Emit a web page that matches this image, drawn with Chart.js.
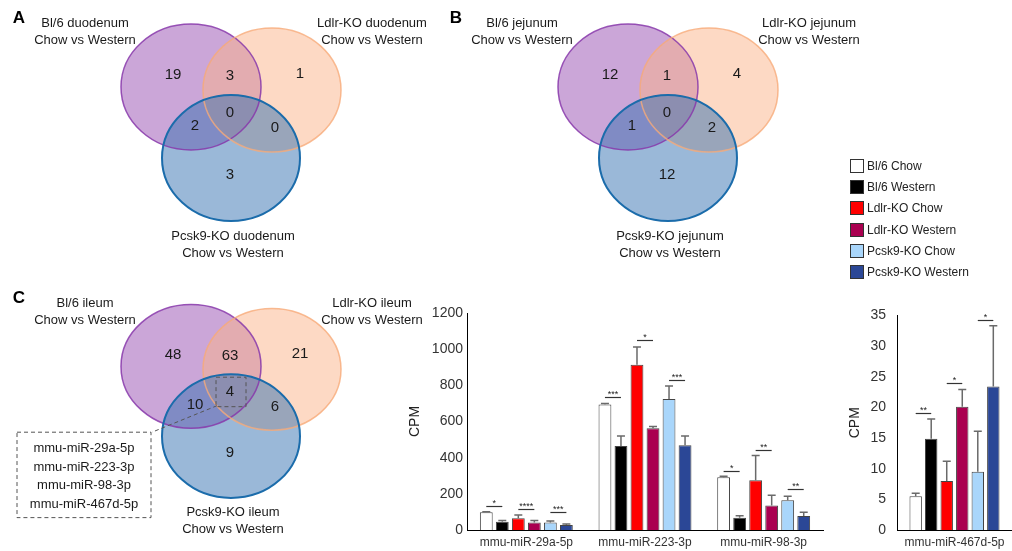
<!DOCTYPE html>
<html>
<head>
<meta charset="utf-8">
<script src="https://cdn.jsdelivr.net/npm/chart.js@4.4.0/dist/chart.umd.min.js"></script>
<style>
  body { margin: 0; background: #fff; width: 1012px; height: 551px; overflow: hidden; position: relative;
         font-family: "Liberation Sans", Arial, sans-serif; }
  .box { position: absolute; }
  #legend { position: absolute; left: 850px; top: 155px; font-size: 12px; color: #222; }
  #legend div { height: 21.3px; display: flex; align-items: center; }
  #legend .sw { width: 14px; height: 14px; border: 1px solid #333; margin-right: 3px; box-sizing: border-box; }
</style>
</head>
<body>
<div class="box" style="left:0;top:0;width:440px;height:275px"><canvas id="vennA"></canvas></div>
<div class="box" style="left:437px;top:0;width:440px;height:275px"><canvas id="vennB"></canvas></div>
<div class="box" style="left:0;top:281px;width:440px;height:270px"><canvas id="vennC"></canvas></div>
<div class="box" style="left:380px;top:296px;width:448px;height:255px"><canvas id="bars1"></canvas></div>
<div class="box" style="left:840px;top:296px;width:172px;height:255px"><canvas id="bars2"></canvas></div>
<div id="legend"></div>

<script>
// venn counts: [Bl/6 only, Bl/6+Ldlr, Ldlr only, all three, Bl/6+Pcsk9, Ldlr+Pcsk9, Pcsk9 only]
const vennA = [19, 3, 1, 0, 2, 0, 3];
const vennB = [12, 1, 4, 0, 1, 2, 12];
const vennC = [48, 63, 21, 4, 10, 6, 9];
const vennNamesA = [['Bl/6 duodenum', 'Chow vs Western'], ['Ldlr-KO duodenum', 'Chow vs Western'], ['Pcsk9-KO duodenum', 'Chow vs Western']];
const vennNamesB = [['Bl/6 jejunum', 'Chow vs Western'], ['Ldlr-KO jejunum', 'Chow vs Western'], ['Pcsk9-KO jejunum', 'Chow vs Western']];
const vennNamesC = [['Bl/6 ileum', 'Chow vs Western'], ['Ldlr-KO ileum', 'Chow vs Western'], ['Pcsk9-KO ileum', 'Chow vs Western']];
const sharedMirs = ['mmu-miR-29a-5p', 'mmu-miR-223-3p', 'mmu-miR-98-3p', 'mmu-miR-467d-5p'];

// bar data
const seriesNames = ['Bl/6 Chow', 'Bl/6 Western', 'Ldlr-KO Chow', 'Ldlr-KO Western', 'Pcsk9-KO Chow', 'Pcsk9-KO Western'];
const seriesColors = ['#ffffff', '#000000', '#ff0000', '#aa0050', '#a9d6fb', '#2b4796'];
const mirs1 = ['mmu-miR-29a-5p', 'mmu-miR-223-3p', 'mmu-miR-98-3p'];
const bl6Chow      = [98, 694, 292];
const bl6Western   = [46, 465, 68];
const ldlrChow     = [65, 914, 275];
const ldlrWestern  = [41, 563, 135];
const pcsk9Chow    = [42, 725, 164];
const pcsk9Western = [28, 469, 78];
const bl6ChowErr      = [3, 6, 5];
const bl6WesternErr   = [6, 55, 11];
const ldlrChowErr     = [18, 98, 137];
const ldlrWesternErr  = [11, 9, 57];
const pcsk9ChowErr    = [8, 72, 22];
const pcsk9WesternErr = [5, 51, 20];
const sigLevels1 = [[135, 116, 100], [735, 1052, 831], [329, 443, 225]];
const sigStars1  = [['*', '****', '***'], ['***', '*', '***'], ['*', '**', '**']];

const mirs2 = ['mmu-miR-467d-5p'];
const mir467    = [5.5, 14.9, 8.0, 20.1, 9.5, 23.4];
const mir467Err = [0.5, 3.2, 3.2, 2.8, 6.6, 9.9];
const sigLevels2 = [[19.1, 24.0, 34.2]];
const sigStars2  = [['**', '*', '*']];

Chart.defaults.font.family = '"Liberation Sans", Arial, sans-serif';

// venn drawing, layout in a 440x275 box
function makeVenn(counts, names, letter, withList) {
  return {
    id: 'venn',
    afterDraw(chart) {
      const ctx = chart.ctx, sx = chart.scales.x, sy = chart.scales.y;
      const px = v => sx.getPixelForValue(v), py = v => sy.getPixelForValue(v);
      const circles = [
        { cx: 191, cy: 87, rx: 70, ry: 63, fill: 'rgba(151,77,177,0.5)', stroke: 'rgba(135,55,170,0.85)', w: 1.5 },
        { cx: 272, cy: 90, rx: 69, ry: 62, fill: 'rgba(251,179,137,0.5)', stroke: 'rgba(247,170,120,0.8)', w: 1.5 },
        { cx: 231, cy: 158, rx: 69, ry: 63, fill: 'rgba(53,113,177,0.5)', stroke: '#1b6cab', w: 2 }
      ];
      ctx.save();
      circles.forEach(c => {
        ctx.beginPath();
        ctx.ellipse(px(c.cx), py(c.cy), px(c.cx + c.rx) - px(c.cx), py(c.cy + c.ry) - py(c.cy), 0, 0, Math.PI * 2);
        ctx.fillStyle = c.fill; ctx.fill();
      });
      circles.forEach(c => {
        ctx.beginPath();
        ctx.ellipse(px(c.cx), py(c.cy), px(c.cx + c.rx) - px(c.cx), py(c.cy + c.ry) - py(c.cy), 0, 0, Math.PI * 2);
        ctx.strokeStyle = c.stroke; ctx.lineWidth = c.w; ctx.stroke();
      });
      const spots = [[173, 75], [230, 76], [300, 74], [230, 113], [195, 126], [275, 128], [230, 175]];
      ctx.fillStyle = '#1a1a1a';
      ctx.font = '15px "Liberation Sans", Arial, sans-serif';
      ctx.textAlign = 'center'; ctx.textBaseline = 'middle';
      counts.forEach((n, i) => ctx.fillText(String(n), px(spots[i][0]), py(spots[i][1])));
      ctx.font = '13px "Liberation Sans", Arial, sans-serif';
      const labelPos = [[85, 23], [372, 23], [233, 236]];
      names.forEach((lines, i) => lines.forEach((t, k) =>
        ctx.fillText(t, px(labelPos[i][0]), py(labelPos[i][1] + k * 17))));
      if (withList) {
        ctx.strokeStyle = '#555'; ctx.lineWidth = 1; ctx.setLineDash([4, 3]);
        ctx.strokeRect(px(216), py(98), px(246) - px(216), py(128) - py(98));
        ctx.beginPath(); ctx.moveTo(px(217), py(127)); ctx.lineTo(px(152), py(154)); ctx.stroke();
        ctx.strokeRect(px(17), py(154), px(151) - px(17), py(241) - py(154));
        ctx.setLineDash([]);
        withList.forEach((t, k) => ctx.fillText(t, px(84), py(171 + k * 18.7)));
      }
      ctx.font = 'bold 17px "Liberation Sans", Arial, sans-serif';
      ctx.fillStyle = '#000';
      ctx.fillText(letter, px(19), py(18));
      ctx.restore();
    }
  };
}

function venn(id, counts, names, letter, withList) {
  return new Chart(document.getElementById(id), {
    type: 'scatter',
    data: { datasets: [] },
    options: {
      responsive: true, maintainAspectRatio: false, animation: false, events: [],
      layout: { padding: 0 },
      plugins: { legend: { display: false }, tooltip: { enabled: false } },
      scales: {
        x: { type: 'linear', display: false, min: 0, max: 440 },
        y: { type: 'linear', display: false, min: 0, max: 275, reverse: true }
      }
    },
    plugins: [makeVenn(counts, names, letter, withList)]
  });
}
venn('vennA', vennA, vennNamesA, 'A', null);
venn('vennB', vennB, vennNamesB, 'B', null);
venn('vennC', vennC, vennNamesC, 'C', sharedMirs);

// error bars + significance lines
function makeBarExtras(errs, sigLevels, sigStars) {
  return {
    id: 'barExtras',
    afterDatasetsDraw(chart) {
      const ctx = chart.ctx, y = chart.scales.y;
      ctx.save();
      ctx.strokeStyle = '#6a6a6a'; ctx.lineWidth = 1.5;
      chart.data.datasets.forEach((ds, si) => {
        chart.getDatasetMeta(si).data.forEach((bar, ci) => {
          const top = y.getPixelForValue(ds.data[ci] + errs[si][ci]);
          ctx.beginPath();
          ctx.moveTo(bar.x, bar.y); ctx.lineTo(bar.x, top);
          ctx.moveTo(bar.x - 4, top); ctx.lineTo(bar.x + 4, top);
          ctx.stroke();
        });
      });
      ctx.strokeStyle = '#333'; ctx.lineWidth = 1.2; ctx.fillStyle = '#222';
      ctx.font = '9px "Liberation Sans", Arial, sans-serif';
      ctx.textAlign = 'center'; ctx.textBaseline = 'alphabetic';
      sigLevels.forEach((row, ci) => row.forEach((lv, k) => {
        const a = chart.getDatasetMeta(2 * k).data[ci], b = chart.getDatasetMeta(2 * k + 1).data[ci];
        const py = Math.round(y.getPixelForValue(lv)) + 0.5;
        ctx.beginPath(); ctx.moveTo(a.x, py); ctx.lineTo(b.x, py); ctx.stroke();
        ctx.fillText(sigStars[ci][k], (a.x + b.x) / 2, py - 1);
      }));
      ctx.restore();
    }
  };
}

function barOptions(max, step, yWidth, padTop, padRight, titlePad, tickPad) {
  return {
    responsive: true, maintainAspectRatio: false, animation: false, events: [],
    layout: { padding: { top: padTop, right: padRight, left: 0, bottom: 0 } },
    plugins: { legend: { display: false }, tooltip: { enabled: false } },
    scales: {
      x: {
        grid: { display: false, drawTicks: false },
        border: { color: '#000', width: 1 },
        ticks: { font: { size: 12 }, color: '#333', padding: 5, maxRotation: 0 },
        afterFit: s => { s.height = 21; }
      },
      y: {
        min: 0, max: max,
        grid: { display: false, drawTicks: false },
        border: { color: '#000', width: 1 },
        ticks: { stepSize: step, font: { size: 14 }, color: '#333', padding: tickPad, callback: v => String(v) },
        title: { display: true, text: 'CPM', font: { size: 14 }, color: '#222', padding: { top: titlePad, bottom: 0 } },
        afterFit: s => { s.width = yWidth; }
      }
    }
  };
}

const series1 = [bl6Chow, bl6Western, ldlrChow, ldlrWestern, pcsk9Chow, pcsk9Western];
const errs1 = [bl6ChowErr, bl6WesternErr, ldlrChowErr, ldlrWesternErr, pcsk9ChowErr, pcsk9WesternErr];

new Chart(document.getElementById('bars1'), {
  type: 'bar',
  data: {
    labels: mirs1,
    datasets: series1.map((d, i) => ({
      label: seriesNames[i], data: d, backgroundColor: seriesColors[i],
      borderColor: '#444', borderWidth: 1, barPercentage: 0.8, categoryPercentage: 0.81
    }))
  },
  options: barOptions(1200, 200, 87, 17, 5, 27, 4),
  plugins: [makeBarExtras(errs1, sigLevels1, sigStars1)]
});

new Chart(document.getElementById('bars2'), {
  type: 'bar',
  data: {
    labels: mirs2,
    datasets: mir467.map((v, i) => ({
      label: seriesNames[i], data: [v], backgroundColor: seriesColors[i],
      borderColor: '#444', borderWidth: 1, barPercentage: 0.8, categoryPercentage: 0.81
    }))
  },
  options: barOptions(35, 5, 57, 19, 0, 7, 11),
  plugins: [makeBarExtras(mir467Err.map(e => [e]), sigLevels2, sigStars2)]
});

// legend
const legend = document.getElementById('legend');
seriesNames.forEach((n, i) => {
  const row = document.createElement('div');
  const sw = document.createElement('span');
  sw.className = 'sw'; sw.style.background = seriesColors[i];
  row.appendChild(sw);
  row.appendChild(document.createTextNode(n));
  legend.appendChild(row);
});
</script>
</body>
</html>
